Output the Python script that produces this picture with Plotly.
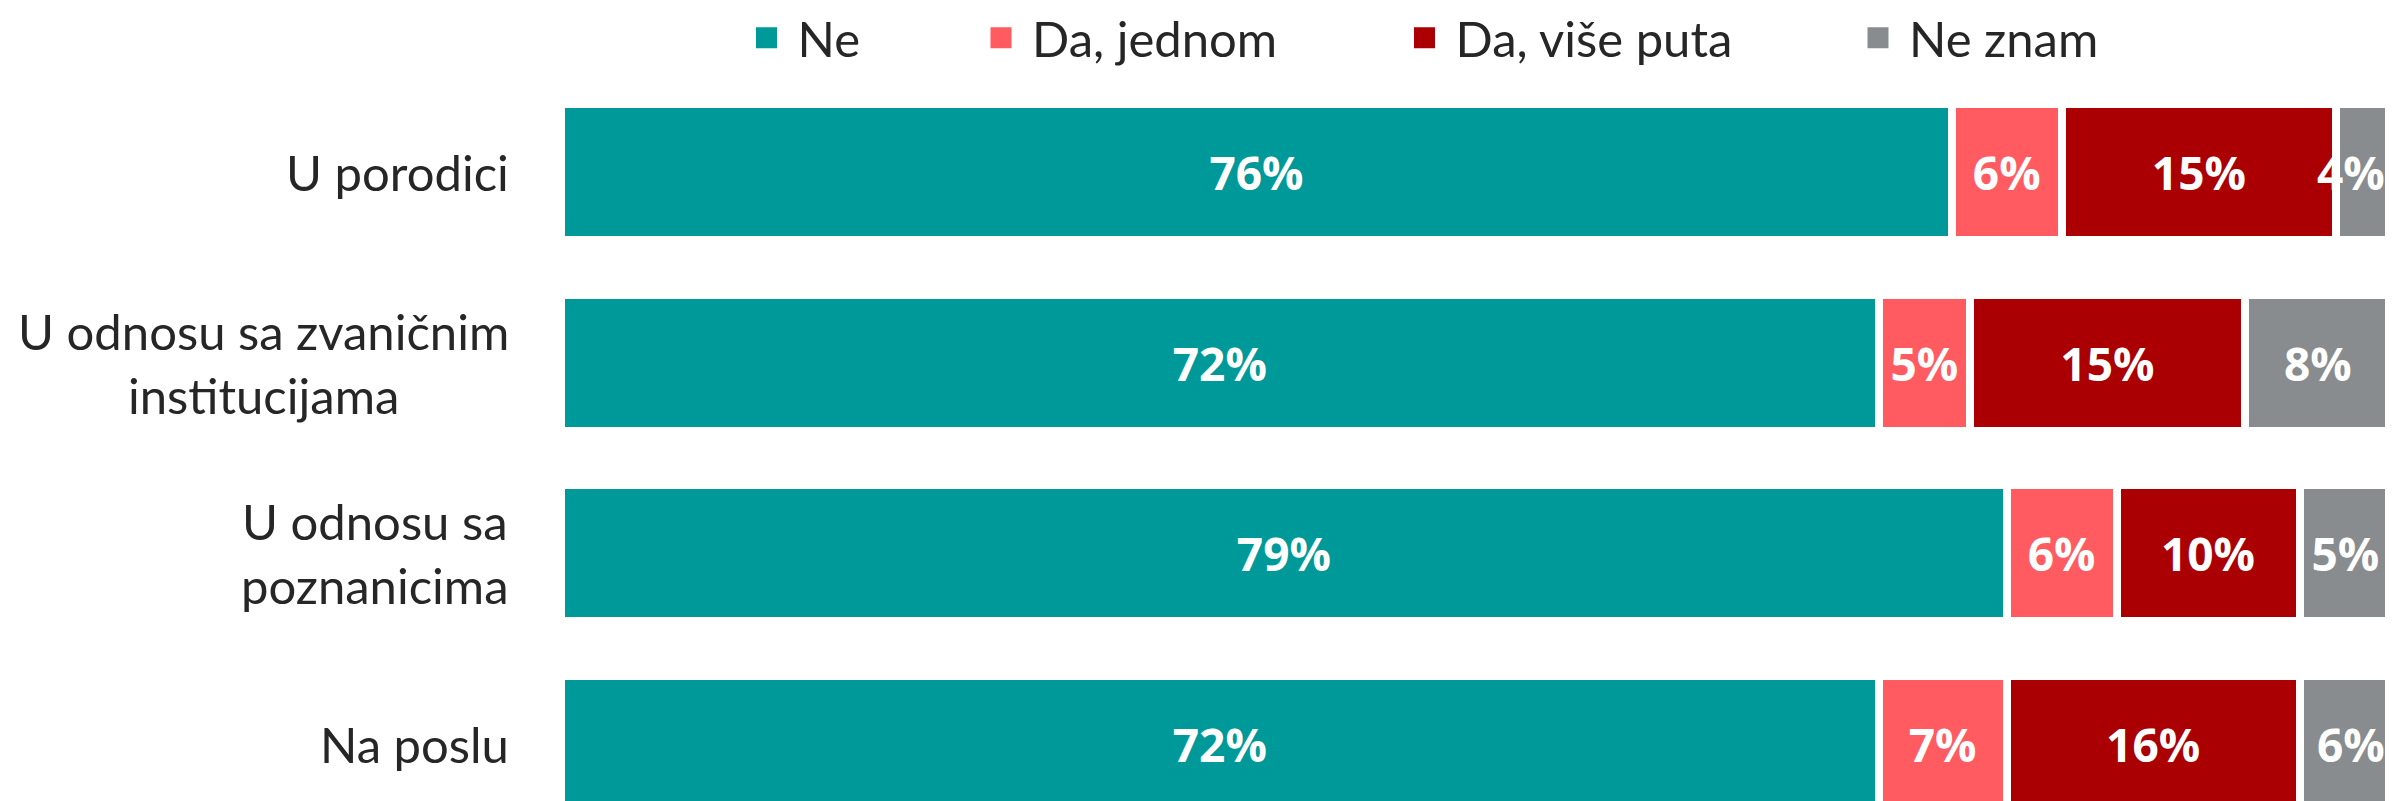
import plotly.graph_objects as go

categories = ["U porodici", "U odnosu sa zvaničnim<br>institucijama", "U odnosu sa<br>poznanicima", "Na poslu"]
series_names = ["Ne", "Da, jednom", "Da, više puta", "Ne znam"]
ne = [76, 72, 79, 72]
da_jednom = [6, 5, 6, 7]
da_vise = [15, 15, 10, 16]
ne_znam = [4, 8, 5, 6]
values = [ne, da_jednom, da_vise, ne_znam]
colors = ["#009999", "#FF5B61", "#AA0004", "#898C8E"]
x_max = 100

# the page body adds an 8px margin, so the figure is laid out 8px smaller
OFF = 8
W, H = 2393 - OFF, 801 - OFF
ML, MR, MT, MB = 561 - OFF, 2, 77 - OFF, 0
plot_w = W - ML - MR
plot_h = H - MT - MB

label_font = dict(family="Open Sans", size=46, color="white", weight="bold")

fig = go.Figure()
cum = [0] * len(categories)
annotations = []
for name, vals, col in zip(series_names, values, colors):
    texts = []
    for i, v in enumerate(vals):
        end = cum[i] + v
        if end > x_max:
            # segment runs past the axis end: label kept inside the visible area
            texts.append("")
            annotations.append(dict(
                x=x_max, xref="x", y=categories[i], yref="y", xanchor="right",
                yanchor="middle", xshift=-4, text=f"{v}%", showarrow=False,
                font=label_font,
            ))
        else:
            texts.append(f"{v}%")
        cum[i] = end
    fig.add_trace(go.Bar(
        y=categories, x=vals, orientation="h", name=name,
        marker=dict(color=col, line=dict(color="white", width=8)),
        text=texts, textposition="inside",
        insidetextanchor="middle", constraintext="none",
        textfont=label_font,
        showlegend=False, hoverinfo="skip",
    ))

legend_ids = ["legend", "legend2", "legend3", "legend4"]
marker_centers = [768, 1002.5, 1426, 1879.5]
for name, col, lid in zip(series_names, colors, legend_ids):
    fig.add_trace(go.Scatter(
        x=[None], y=[None], mode="markers", name=name,
        marker=dict(symbol="square", size=16, color=col, line=dict(color=col, width=5)),
        legend=lid, showlegend=True, hoverinfo="skip",
    ))

legend_y = (801 - 30 - MB - OFF) / plot_h
layout_legends = {}
for lid, mc in zip(legend_ids, marker_centers):
    layout_legends[lid] = dict(
        x=(mc - 32.5 - 561) / plot_w, y=legend_y, xanchor="left", yanchor="middle",
        orientation="h", itemwidth=52, borderwidth=0, bgcolor="rgba(0,0,0,0)",
        font=dict(family="Lato", size=49, color="#262626"),
    )

for cat in categories:
    annotations.append(dict(
        x=0, xref="paper", y=cat, yref="y", xanchor="right", yanchor="middle",
        xshift=-50, text=cat, showarrow=False, align="center",
        font=dict(family="Lato", size=49, color="#262626"),
    ))

fig.update_layout(
    width=W, height=H, barmode="stack", bargap=0.286,
    margin=dict(l=ML, r=MR, t=MT, b=MB, pad=0, autoexpand=False),
    plot_bgcolor="white", paper_bgcolor="white",
    xaxis=dict(range=[0, x_max], visible=False, fixedrange=True),
    yaxis=dict(type="category", categoryorder="array", categoryarray=categories,
               range=[-0.5 + plot_h / 190.5, -0.5], visible=False),
    annotations=annotations,
    **layout_legends,
)

fig.write_html("out.html")
